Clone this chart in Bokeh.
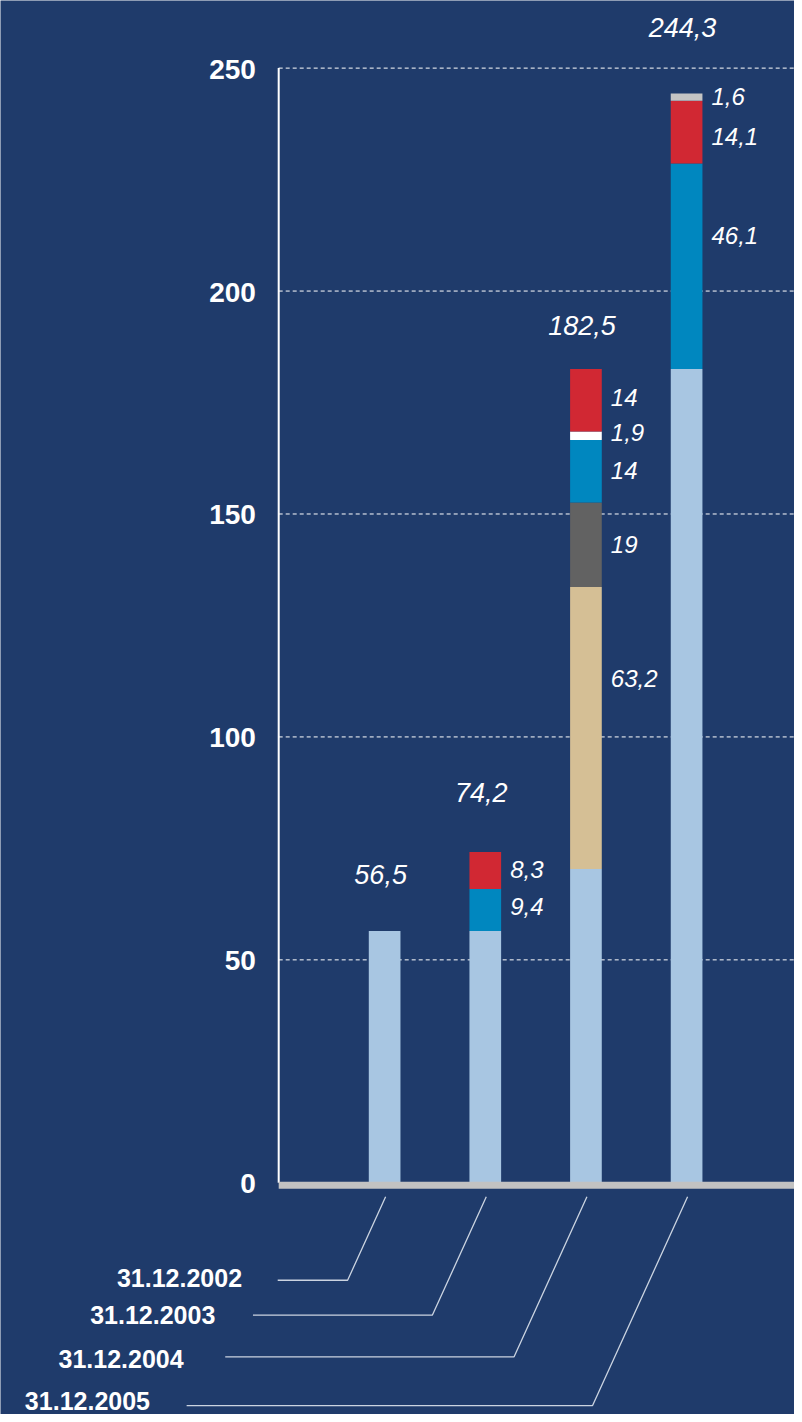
from bokeh.plotting import figure
from bokeh.models import Range1d, ColumnDataSource
from bokeh.core.properties import value
from bokeh.embed import file_html
from bokeh.resources import INLINE

# ---------------- data ----------------
dates = ["31.12.2002", "31.12.2003", "31.12.2004", "31.12.2005"]
base_vals = [56.5, 56.5, 70.4, 182.5]
tan_vals = [0.0, 0.0, 63.2, 0.0]
gray_vals = [0.0, 0.0, 19.0, 0.0]
blue_vals = [0.0, 9.4, 14.0, 46.1]
white_vals = [0.0, 0.0, 1.9, 0.0]
red_vals = [0.0, 8.3, 14.0, 14.1]
silver_vals = [0.0, 0.0, 0.0, 1.6]
totals = [56.5, 74.2, 182.5, 244.3]
y_ticks = [0, 50, 100, 150, 200, 250]

# ---------------- style / layout ----------------
BG = "#1F3B6B"
layer_names = ["base", "tan", "gray", "blue", "white", "red", "silver"]
layer_vals = [base_vals, tan_vals, gray_vals, blue_vals, white_vals, red_vals, silver_vals]
layer_colors = ["#A8C6E2", "#D5BF95", "#626262", "#0087BF", "#FFFFFF", "#D12833", "#C4C4C4"]

W, H = 794, 1414
REF_W, REF_H = 802.0, 1422.0  # layout reference extent (px)
SY = 1121.0 / 250.0           # ref px per unit
Y0_PAGE = 1189.0              # ref y of value 0
SX = 101.67                   # ref px per category step
X0_PAGE = 388.0               # ref x of first bar centre
XS = (0 - X0_PAGE) / SX
XE = (REF_W - X0_PAGE) / SX
YE = Y0_PAGE / SY
YS = (Y0_PAGE - REF_H) / SY
BW = 32.0 / SX


def dx(page_x):
    return (page_x - X0_PAGE) / SX


def dy(page_y):
    return (Y0_PAGE - page_y) / SY


FONT = "Liberation Sans"

p = figure(width=W, height=H, x_range=Range1d(XS, XE), y_range=Range1d(YS, YE),
           output_backend="svg", toolbar_location=None, min_border=0,
           x_axis_location=None, y_axis_location=None,
           background_fill_color=BG, border_fill_color=BG, outline_line_color=None)
p.xgrid.visible = False
p.ygrid.visible = False

xs_idx = list(range(len(dates)))

# gridlines (dashed)
grid_vals = [t for t in y_ticks if t > 0]
p.segment(x0=[dx(281)] * len(grid_vals), x1=[XE] * len(grid_vals), y0=grid_vals, y1=grid_vals,
          line_color="white", line_width=1, line_dash="4 3")

# stacked bars
src = ColumnDataSource(dict(x=xs_idx, **{n: v for n, v in zip(layer_names, layer_vals)}))
p.vbar_stack(layer_names, x="x", width=BW, color=layer_colors, source=src, line_width=0)

# axis line and baseline
p.segment(x0=[dx(281)], x1=[dx(281)], y0=[0], y1=[250], line_color="white", line_width=2)
p.segment(x0=[dx(281)], x1=[XE], y0=[dy(1191.5)], y1=[dy(1191.5)], line_color="#C2C2C2", line_width=7)

# y tick labels
p.text(x=[dx(258)] * len(y_ticks), y=y_ticks, text=[str(t) for t in y_ticks], y_offset=1,
       text_color="white", text_font=value(FONT), text_font_style="bold",
       text_font_size="28px", text_align="right", text_baseline="middle")


def fmt(v):
    return str(int(v)) if float(v).is_integer() else ("%g" % v).replace(".", ",")


# segment labels
seg_shift = {("tan", 2): -50, ("gray", 2): 0, ("blue", 1): -3, ("blue", 2): -1, ("blue", 3): -31,
             ("white", 2): -3, ("red", 1): -1, ("red", 2): -2.5, ("red", 3): 4, ("silver", 3): -1}
lx, ly, lt, loff = [], [], [], []
cum = [0.0] * len(dates)
for name, vals in zip(layer_names, layer_vals):
    for i, v in enumerate(vals):
        if name != "base" and v > 0:
            lx.append(i + BW / 2)
            ly.append(cum[i] + v / 2)
            lt.append(fmt(v))
            loff.append(seg_shift.get((name, i), 0))
        cum[i] += v
p.text(x=lx, y=ly, text=lt, x_offset=9, y_offset=loff, text_color="white",
       text_font=value(FONT), text_font_style="italic", text_font_size="24px",
       text_align="left", text_baseline="middle")

# total labels
tot_gap = [-56, -59, -44, -66]
p.text(x=xs_idx, y=totals, text=[fmt(t) for t in totals], x_offset=-4, y_offset=tot_gap,
       text_color="white", text_font=value(FONT), text_font_style="italic",
       text_font_size="27px", text_align="center", text_baseline="middle")

# leader lines and date labels
top_px = 1203
line_px_y = [1287, 1322, 1364, 1413]
line_left_px = [280, 255, 227, 188]
text_px_y = [1285, 1321.5, 1366.5, 1408.5]
text_right_px = [244, 217, 185, 151]
slope = 0.457
mx, my = [], []
for i in xs_idx:
    top_x = X0_PAGE + i * SX + 1
    bot_x = top_x - slope * (line_px_y[i] - top_px)
    mx.append([dx(top_x), dx(bot_x), dx(line_left_px[i])])
    my.append([dy(top_px), dy(line_px_y[i]), dy(line_px_y[i])])
p.multi_line(xs=mx, ys=my, line_color="#CBD4E1", line_width=1.3)

p.text(x=[dx(v) for v in text_right_px], y=[dy(v) for v in text_px_y], text=dates,
       text_color="white", text_font=value(FONT), text_font_style="bold",
       text_font_size="25px", text_align="right", text_baseline="middle")

open("out.html", "w").write(file_html(p, INLINE))
